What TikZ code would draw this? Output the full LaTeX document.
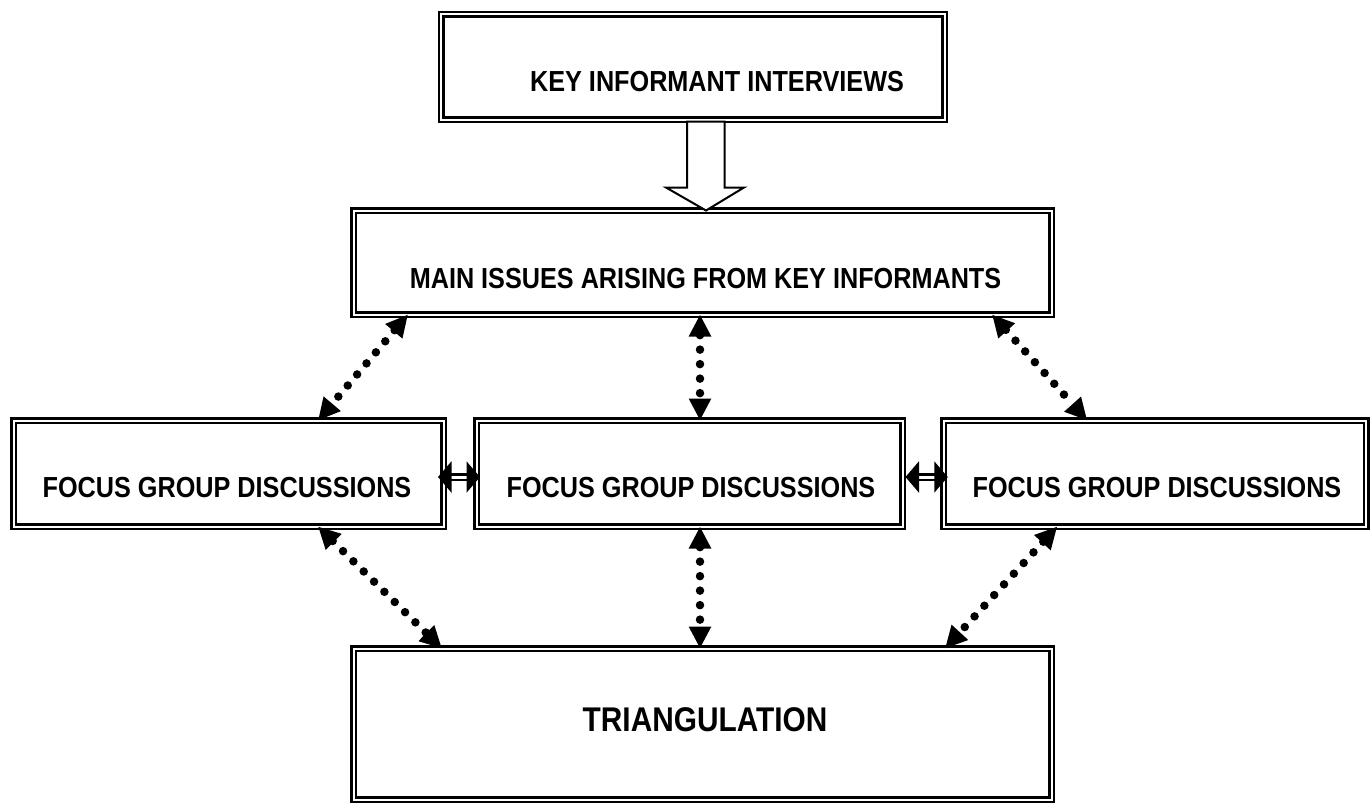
\documentclass[tikz,border=0pt]{standalone}
\usepackage{fontspec}
\setmainfont{Liberation Sans}[FakeStretch=0.87]
\usepackage{tikz}
\usetikzlibrary{arrows.meta,calc,positioning}
\tikzstyle{box}   =[draw, double, line width=0.05cm,
                    double distance=0.04cm, inner sep=0pt,
                    outer sep=0pt, fill=white]
\tikzstyle{txt}   =[inner sep=0pt, font=\bfseries\fontsize{16.5}{18}\selectfont]
\tikzstyle{bigtxt}=[inner sep=0pt, font=\bfseries\fontsize{19.5}{22}\selectfont]
\tikzstyle{dotedge}=[line width=0.17cm, line cap=round,
                    dash pattern=on 0pt off 0.29cm,
                    {Triangle[length=0.44cm,width=0.42cm]}-{Triangle[length=0.44cm,width=0.42cm]}]
\tikzstyle{dbledge}=[double, line width=0.05cm, double distance=0.06cm,
                    {Triangle[length=0.27cm,width=0.62cm]}-{Triangle[length=0.27cm,width=0.62cm]}]
\tikzstyle{blockarrow}=[draw, fill=white, line width=0.04cm, line join=miter]

\begin{document}
\begin{tikzpicture}
        \useasboundingbox (0,0) rectangle (27.4,-16.1);

        % boxes
        \node (key)  [box, minimum width=10.07cm, minimum height=2.11cm] at (13.86,-1.34) {};
        \node (main) [box, minimum width=13.96cm, minimum height=2.08cm] at (14.05,-5.25) {};
        \node (fgdL) [box, minimum width=8.6cm,   minimum height=2.12cm] at (4.57,-9.47) {};
        \node (fgdM) [box, minimum width=8.52cm,  minimum height=2.12cm] at (13.79,-9.47) {};
        \node (fgdR) [box, minimum width=8.45cm,  minimum height=2.12cm] at (23.1,-9.47) {};
        \node (tri)  [box, minimum width=13.96cm, minimum height=3.02cm] at (14.05,-14.48) {};

        % texts
        \node (keyT)  [txt] at (14.34,-1.64) {KEY INFORMANT INTERVIEWS};
        \node (mainT) [txt] at (14.11,-5.58) {MAIN ISSUES ARISING FROM KEY INFORMANTS};
        \node (fgdLT) [txt] at (4.54,-9.76)  {FOCUS GROUP DISCUSSIONS};
        \node (fgdMT) [txt] at (13.82,-9.76) {FOCUS GROUP DISCUSSIONS};
        \node (fgdRT) [txt] at (23.14,-9.76) {FOCUS GROUP DISCUSSIONS};
        \node (triT)  [bigtxt] at (14.1,-14.4) {TRIANGULATION};

        % hollow arrow
        \coordinate (tip) at ([xshift=0.07cm]main.north);
        \draw [blockarrow] (tip) -- ++(-0.8,0.46) -- ++(0.42,0) -- ++(0,1.32)
            -- ++(0.75,0) -- ++(0,-1.32) -- ++(0.39,0) -- cycle;

        % ends of the dotted connectors
        \coordinate (m1) at ([xshift=1.09cm]main.south west);
        \coordinate (m2) at ([xshift=-0.05cm]main.south);
        \coordinate (m3) at ([xshift=-1.19cm]main.south east);
        \coordinate (l1) at ([xshift=1.79cm]fgdL.north);
        \coordinate (c1) at ([xshift=0.21cm]fgdM.north);
        \coordinate (r1) at ([xshift=2.87cm]fgdR.north west);
        \coordinate (l2) at ([xshift=1.79cm]fgdL.south);
        \coordinate (c2) at ([xshift=0.21cm]fgdM.south);
        \coordinate (r2) at ([xshift=2.27cm]fgdR.south west);
        \coordinate (t1) at ([xshift=1.77cm]tri.north west);
        \coordinate (t2) at ([xshift=-0.05cm]tri.north);
        \coordinate (t3) at ([xshift=-2.13cm]tri.north east);

        \foreach \i/\j in {m1/l1,m2/c1,m3/r1,l2/t1,c2/t2,r2/t3}
            \draw [dotedge] (\i) to (\j);

        \draw [dbledge] ([xshift=-0.11cm,yshift=-0.07cm]fgdL.east)
            to ([xshift=0.07cm,yshift=-0.07cm]fgdM.west);
        \draw [dbledge] ([xshift=0.06cm,yshift=-0.07cm]fgdM.east)
            to ([xshift=0.08cm,yshift=-0.07cm]fgdR.west);

    \end{tikzpicture}
\end{document}
